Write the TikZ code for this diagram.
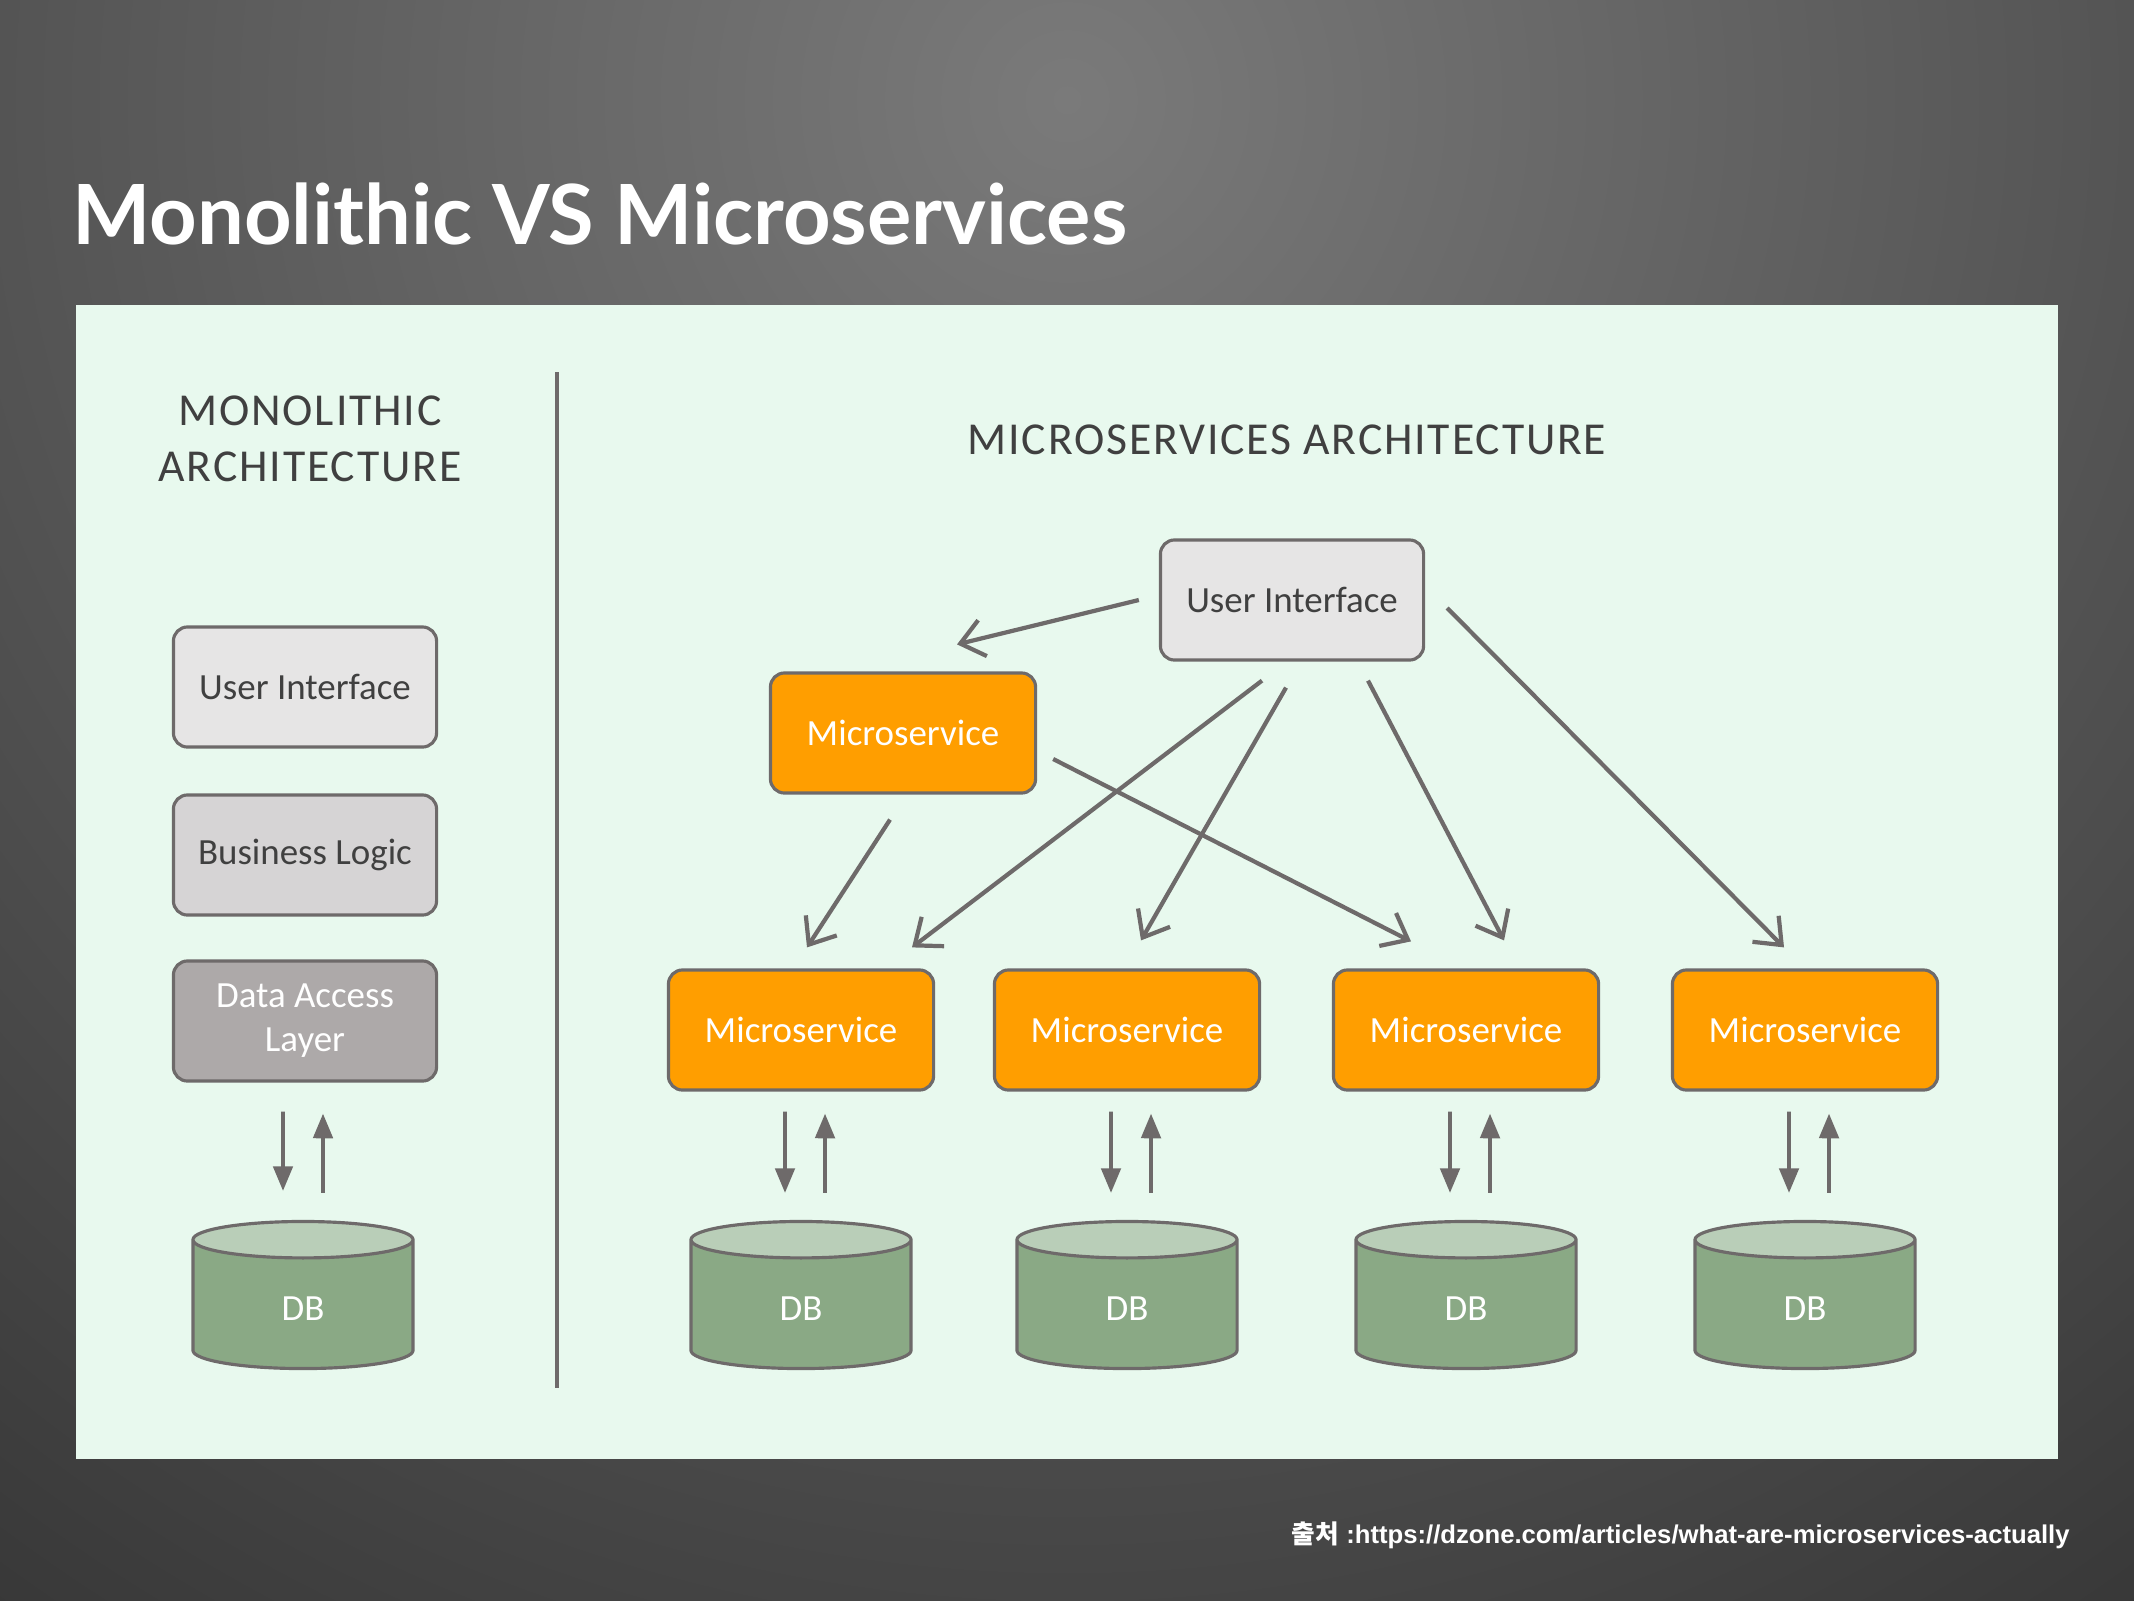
\documentclass[tikz,border=0pt]{standalone}
\usepackage{fontspec}
\setmainfont{Carlito}
\newfontfamily\titlefont{Lato}
\newfontfamily\notefont{Liberation Sans}
\newfontfamily\cjk{Noto Sans CJK KR}
\usetikzlibrary{arrows.meta,shapes.geometric}

\definecolor{bgtop}{HTML}{7A7A7A}
\definecolor{bgbottom}{HTML}{282828}
\definecolor{panel}{HTML}{E8F9EE}
\definecolor{edge}{HTML}{6E6A6A}
\definecolor{uifill}{HTML}{E6E5E5}
\definecolor{blfill}{HTML}{D6D4D5}
\definecolor{dalfill}{HTML}{ADA9A9}
\definecolor{msfill}{HTML}{FF9E00}
\definecolor{dbbody}{HTML}{8AA985}
\definecolor{dbtop}{HTML}{B9CEB8}
\definecolor{headtext}{HTML}{404040}

\tikzset{
  layer/.style={draw=edge, line width=0.9pt, rounded corners=4pt,
    minimum width=2.63cm, minimum height=1.2cm, align=center,
    font=\fontsize{10.5}{12.5}\selectfont, text=black!75},
  service/.style={layer, fill=msfill, text=white, minimum width=2.65cm},
  db/.style={cylinder, shape border rotate=90, aspect=0.55, draw=edge, line width=0.9pt,
    cylinder uses custom fill, cylinder body fill=dbbody, cylinder end fill=dbtop,
    minimum width=2.2cm, minimum height=1.47cm, text=white,
    font=\fontsize{10.5}{12}\selectfont},
  flow/.style={draw=edge, line width=1.2pt, -{Straight Barb[length=6.5pt,width=10.5pt]}},
  io/.style={draw=edge, line width=1.1pt, -{Triangle[length=7pt,width=5.5pt]}},
  heading/.style={text=headtext, align=center,
    font=\fontsize{13}{16}\selectfont\addfontfeatures{LetterSpace=4}}
}

\begin{document}
\begin{tikzpicture}[x=0.01cm, y=-0.01cm]

% slide background
\useasboundingbox (0,0) rectangle (2134,1600);
\begin{scope}
\clip (0,0) rectangle (2134,1600);
\shade[inner color=bgtop, outer color=bgbottom] (1067,100) circle (2300);
\end{scope}

\node[anchor=west, text=white, font=\titlefont\bfseries\fontsize{23.6}{28}\selectfont]
  (title) at (60,214) {Monolithic VS Microservices};

\fill[panel] (76,305) rectangle (2058,1459);
\draw[edge, line width=0.9pt] (557,372) -- (557,1388);

\node[heading] (monohead) at (310,439) {MONOLITHIC\\ARCHITECTURE};
\node[heading] (microhead) at (1287,440) {MICROSERVICES ARCHITECTURE};

% monolith
\node[layer, fill=uifill] (monoui) at (305,687) {User Interface};
\node[layer, fill=blfill] (monobl) at (305,855) {Business Logic};
\node[layer, fill=dalfill, text=white] (monodal) at (305,1021) {Data Access\\Layer};
\node[db] (monodb) at (303,1309) {DB};

\draw[io] ([shift={(-22,29)}]monodal.south) -- ([shift={(-20,-29)}]monodb.north);
\draw[io] ([shift={(20,-27)}]monodb.north) -- ([shift={(18,31)}]monodal.south);

% microservices
\node[layer, fill=uifill] (ui) at (1292,600) {User Interface};
\node[service] (ums) at (903,733) {Microservice};

\foreach \i/\x in {1/801,2/1127,3/1466,4/1805} {
  \node[service] (ms\i) at (\x,1030) {Microservice};
  \node[db] (db\i) at (\x,1309) {DB};
  \draw[io] ([shift={(-16,20)}]ms\i.south) -- ([shift={(-16,-27)}]db\i.north);
  \draw[io] ([shift={(24,-27)}]db\i.north) -- ([shift={(24,22)}]ms\i.south);
}

\draw[flow] ([shift={(-20,0)}]ui.west) -- ([shift={(54,-27)}]ums.north);
\draw[flow] ([shift={(-30,19)}]ui.south) -- ([shift={(111,-21)}]ms1.north);
\draw[flow] ([shift={(-6,26)}]ui.south) -- ([shift={(14,-28)}]ms2.north);
\draw[flow] ([shift={(76,19)}]ui.south) -- ([shift={(38,-28)}]ms3.north);
\draw[flow] ([shift={(22,8)}]ui.east) -- ([shift={(-21,-21)}]ms4.north);
\draw[flow] ([shift={(-13,25)}]ums.south) -- ([shift={(6,-21)}]ms1.north);
\draw[flow] ([shift={(16,26)}]ums.east) -- ([shift={(-55,-27)}]ms3.north);

\node[anchor=east, text=white, font=\notefont\bfseries\fontsize{7.3}{9}\selectfont]
  (source) at (2082,1535) {{\cjk\bfseries 출처} :https://dzone.com/articles/what-are-microservices-actually};

\end{tikzpicture}
\end{document}
